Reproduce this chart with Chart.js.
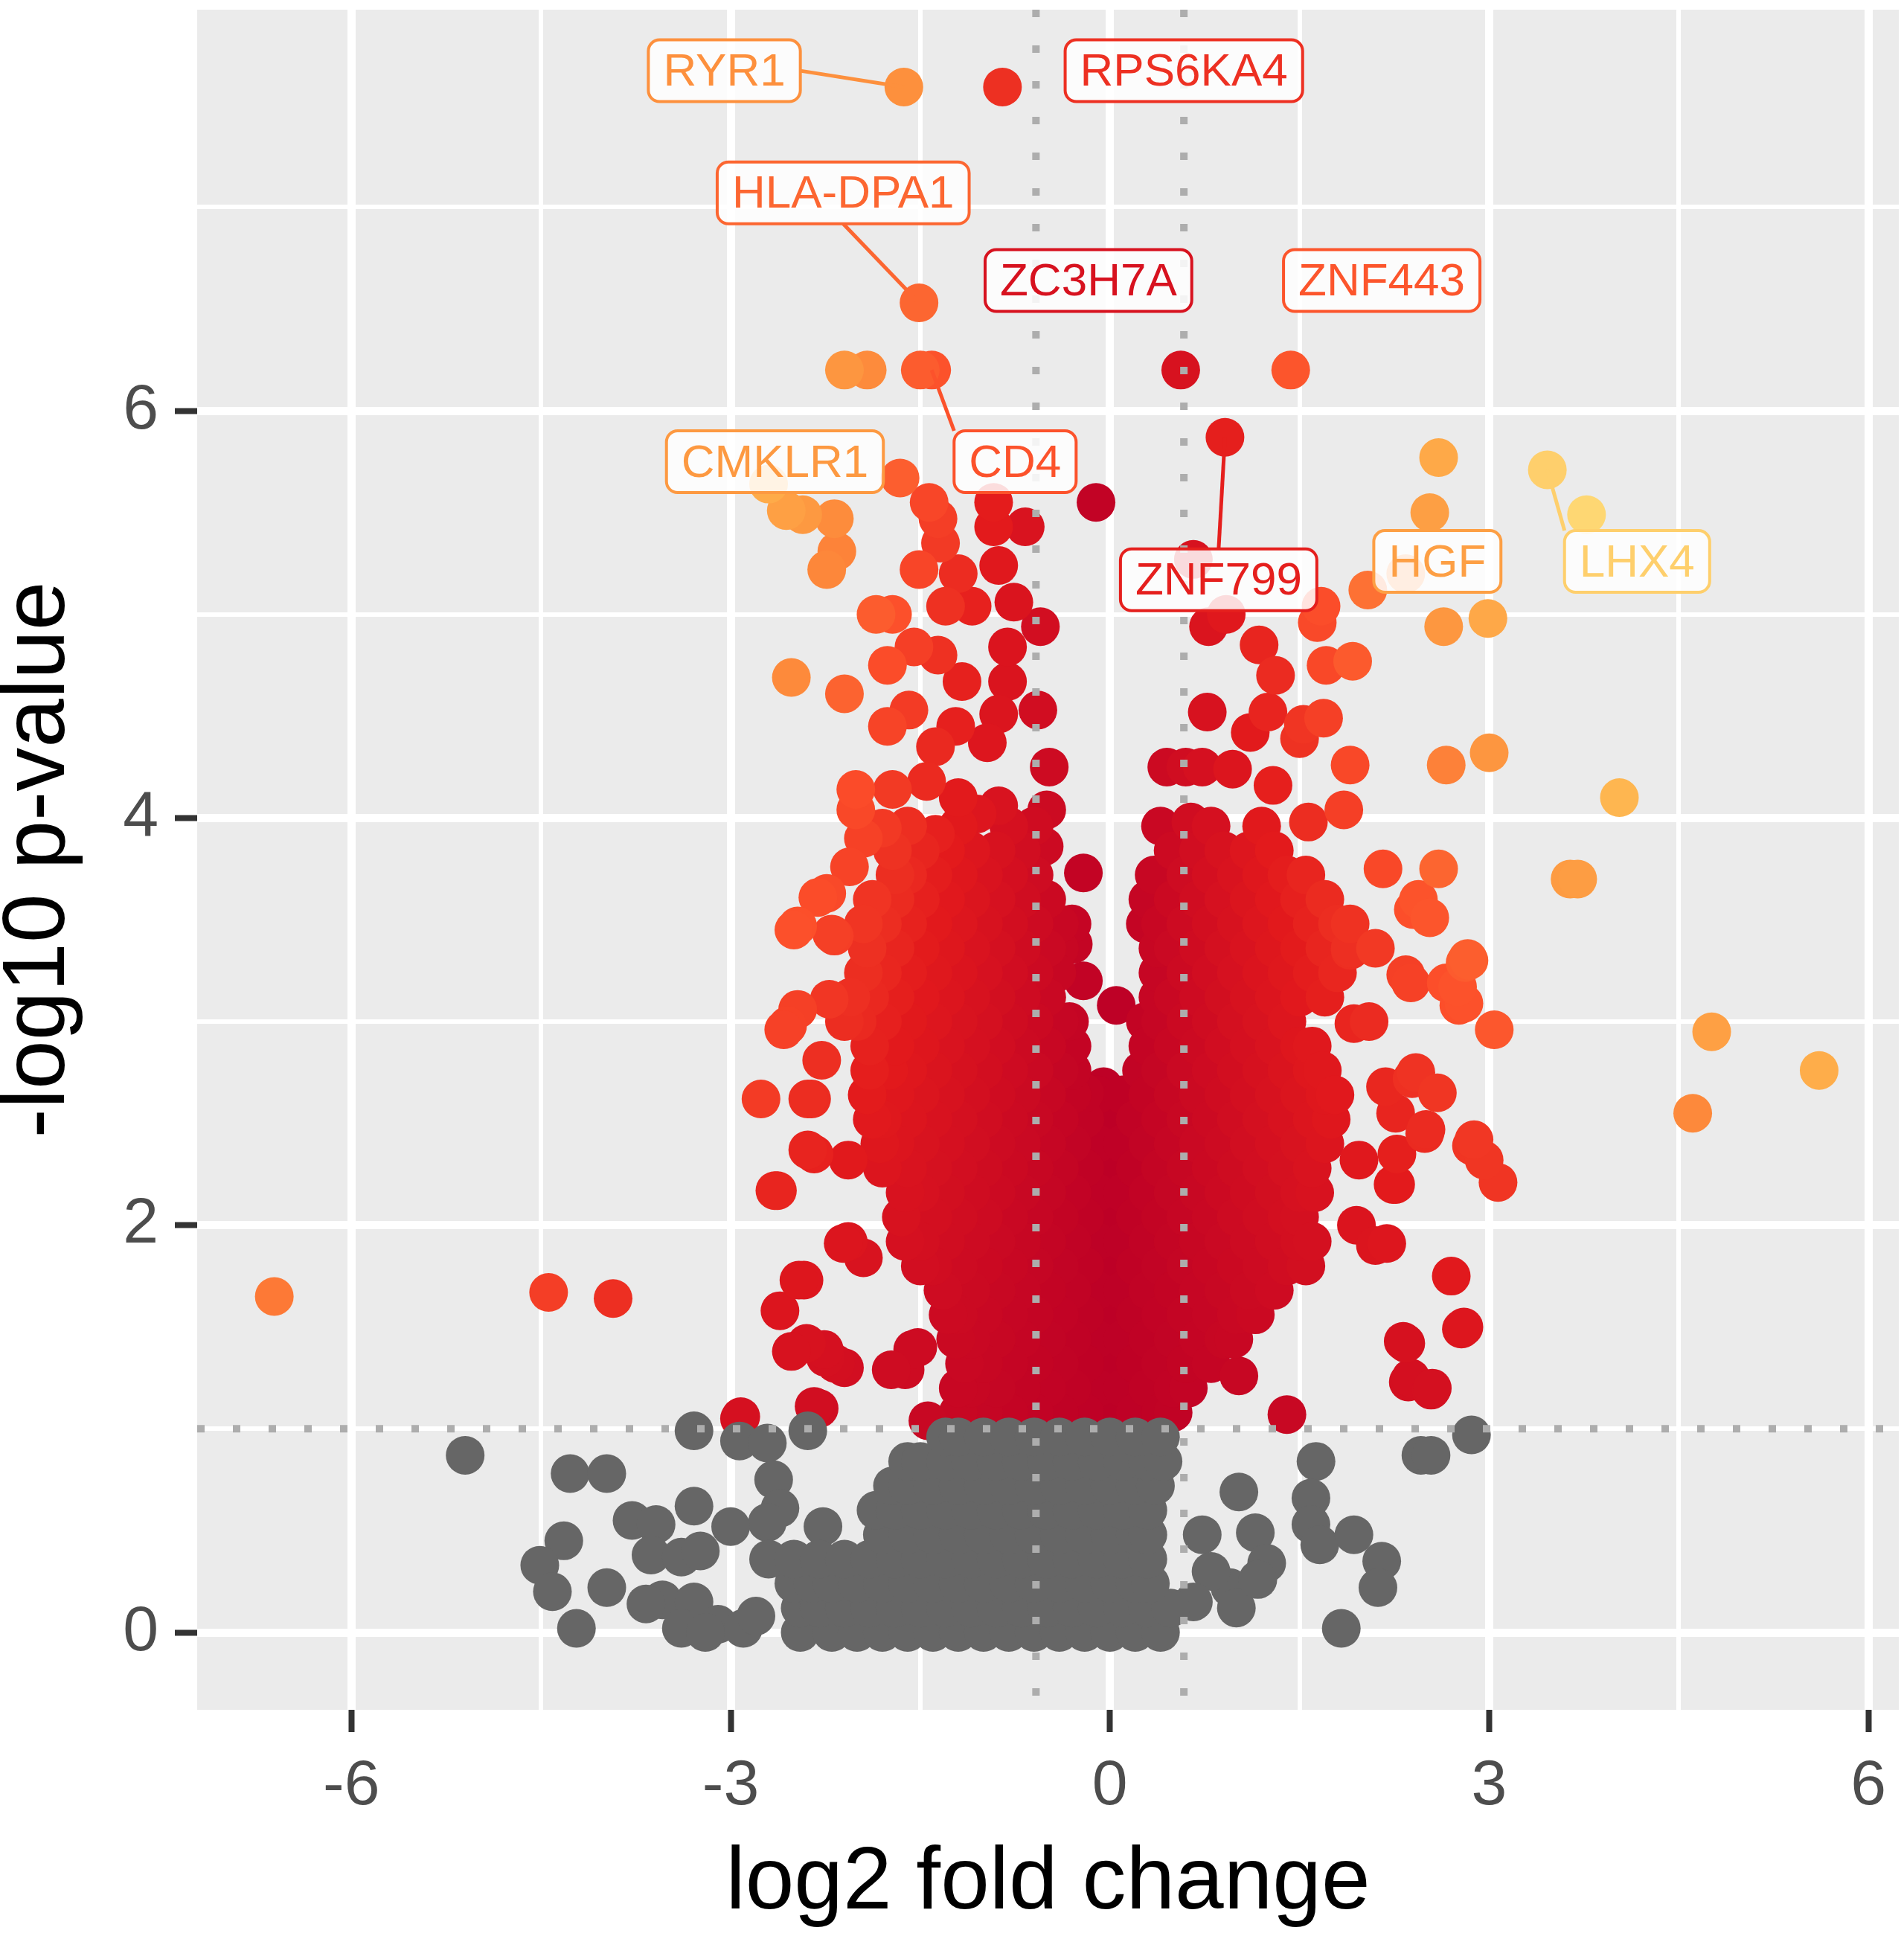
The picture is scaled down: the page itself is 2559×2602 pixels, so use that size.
<!DOCTYPE html>
<html>
<head>
<meta charset="utf-8">
<script src="https://cdn.jsdelivr.net/npm/chart.js@4.4.1/dist/chart.umd.min.js"></script>
<style>
  html, body { margin: 0; padding: 0; background: #ffffff; }
  #wrap { width: 2559px; height: 2602px; position: relative; }
</style>
</head>
<body>
<div id="wrap"><canvas id="chart"></canvas></div>
<script>
// labelled genes: log2 fold change and -log10 p
const geneNames = ['RYR1', 'RPS6KA4', 'HLA-DPA1', 'ZC3H7A', 'ZNF443', 'CMKLR1', 'CD4', 'ZNF799', 'HGF', 'LHX4'];
const geneFC    = [-1.63, -0.85, -1.51, 0.56, 1.43, -2.43, -1.41, 0.91, 2.53, 3.46];
const geneLogP  = [7.59, 7.59, 6.53, 6.2, 6.2, 5.49, 6.2, 5.87, 5.5, 5.71];

// significant points read one by one [log2FC, -log10 p]
const sigPoints = [
  [-2.1,6.2],[-1.92,6.2],[-1.5,6.2],[-0.11,5.55],
  [-2.7,5.64],[-2.56,5.51],[-2.18,5.47],[-2.16,5.31],[-2.24,5.22],[-1.66,5.67],[-1.43,5.55],[-1.36,5.47],
  [-1.34,5.35],[-1.51,5.22],[-1.2,5.2],[-0.92,5.55],[-0.92,5.43],[-0.67,5.43],[-0.88,5.24],[-0.76,5.06],
  [-0.55,4.94],[-0.81,4.84],[-1.85,5.0],[-1.72,5.0],[-1.3,5.04],[-1.09,5.04],[-1.55,4.84],[-1.36,4.8],
  [-1.76,4.75],[-1.17,4.67],[-0.81,4.67],[-0.57,4.53],[-0.88,4.51],[-2.52,4.69],[-2.1,4.61],[-1.76,4.45],
  [-1.59,4.53],[-1.22,4.45],[-0.97,4.37],[-1.38,4.35],[-0.48,4.25],[-2.01,4.14],[-1.72,4.14],[-2.01,4.04],
  [-1.45,4.18],[-1.2,4.1],[-0.88,4.06],[-0.5,4.04],[-2.06,3.76],[-2.24,3.63],[-2.5,3.45],[-2.2,3.43],
  [-1.72,3.84],[-0.21,3.73],[-0.29,3.38],[-0.21,3.2],[0.05,3.08],[-0.2,2.65],[-0.05,2.68],
  [0.66,5.27],[0.78,4.94],[0.92,5.0],[2.34,5.2],[2.04,5.12],[1.67,5.04],[1.64,4.96],[2.64,4.94],[2.99,4.98],
  [2.6,5.77],[3.77,5.49],[1.18,4.85],[1.31,4.7],[1.71,4.75],[1.92,4.77],[0.77,4.52],[1.25,4.52],[1.11,4.42],
  [1.53,4.46],[1.69,4.49],[1.5,4.39],[2.66,4.26],[3.0,4.32],[0.45,4.25],[0.6,4.25],[0.73,4.25],[1.9,4.26],
  [0.97,4.24],[1.29,4.16],[1.85,4.04],[0.64,3.98],[1.57,3.98],[2.16,3.75],[2.6,3.75],[2.44,3.6],[2.53,3.51],
  [2.83,3.31],[2.4,3.55],
  [2.34,3.23],[2.81,3.29],[2.66,3.19],[2.76,3.08],[3.04,2.96],[1.93,2.99],[1.9,3.35],[2.18,2.68],[2.39,2.72],
  [2.59,2.65],[2.49,2.45],[2.27,2.35],[2.24,2.2],[2.19,1.91],[2.86,2.39],[2.96,2.32],[3.07,2.21],[2.7,1.75],
  [2.78,1.49],[2.32,1.43],[2.36,1.23],[2.54,1.19],[1.02,1.26],[1.4,1.07],[4.03,4.1],[3.64,3.7],[3.7,3.7],
  [4.76,2.95],[4.61,2.55],[5.61,2.76],[2.42,2.75],[2.26,2.55],[2.5,2.47],[2.88,2.42],[1.95,2.0],[2.1,1.9],
  [2.8,1.5],[2.34,1.42],[2.38,1.25],[2.55,1.2],[2.75,3.17],[2.84,3.3],[2.38,3.19],[2.8,3.09],[2.05,3.0],
  [1.97,2.32],[2.26,2.2],
  [-6.61,1.65],[-4.44,1.67],[-3.93,1.64],[-2.93,1.05],[-2.76,2.62],[-2.65,2.17],[-2.58,2.96],[-2.39,2.62],
  [-2.39,2.37],[-2.61,1.58],[-2.46,1.73],[-2.52,1.38],[-2.26,1.39],[-2.17,1.32],[-2.34,1.11],[-2.11,1.91],
  [-1.95,1.84],[-2.31,3.61],[-2.22,3.11],[-1.73,1.29],[-1.56,1.39],[-2.47,3.47],[-2.18,3.42],[-2.47,3.06],
  [-2.55,2.98],[-2.28,2.81],[-2.36,2.62],[-2.34,2.35],[-2.07,2.32],[-2.63,2.17],[-2.07,1.92],
  [-2.42,1.73],[-2.4,1.42],[-2.25,1.35],[-2.1,1.3],[-1.52,1.4],[-1.62,1.29],[-2.3,1.1],[-2.92,1.06],[-1.44,1.04],
  [-1.95,3.9],[-1.8,3.95],[-1.38,3.92],[-0.52,3.86],[-1.05,4.02]
];

// dense part of the significant cloud, row by row: [-log10 p, log2FC...]
const sigRows = [
  [1.08, -1.2,-1.0,-0.8,-0.6,-0.4,-0.2,0,0.2,0.4,0.5],
  [1.2, -1.2,-1.1,-0.9,-0.7,-0.5,-0.3,-0.1,0.1,0.3,0.5,0.62],
  [1.32, -1.15,-1.0,-0.8,-0.6,-0.4,-0.2,0,0.2,0.4,0.6,0.8],
  [1.44, -1.22,-1.1,-0.9,-0.7,-0.5,-0.3,-0.1,0.1,0.3,0.5,0.7,0.9,0.98],
  [1.56, -1.28,-1.2,-1.0,-0.8,-0.6,-0.4,-0.2,0,0.2,0.4,0.6,0.8,1.0,1.15],
  [1.68, -1.32,-1.1,-0.9,-0.7,-0.5,-0.3,-0.1,0.1,0.3,0.5,0.7,0.9,1.1,1.3],
  [1.8, -1.5,-1.4,-1.2,-1.0,-0.8,-0.6,-0.4,-0.2,0,0.2,0.4,0.6,0.8,1.0,1.2,1.4,1.55],
  [1.92, -1.62,-1.5,-1.3,-1.1,-0.9,-0.7,-0.5,-0.3,-0.1,0.1,0.3,0.5,0.7,0.9,1.1,1.3,1.5,1.6],
  [2.04, -1.65,-1.4,-1.2,-1.0,-0.8,-0.6,-0.4,-0.2,0,0.2,0.4,0.6,0.8,1.0,1.2,1.4,1.5],
  [2.16, -1.62,-1.5,-1.3,-1.1,-0.9,-0.7,-0.5,-0.3,-0.1,0.1,0.3,0.5,0.7,0.9,1.1,1.3,1.5,1.62],
  [2.28, -1.8,-1.6,-1.4,-1.2,-1.0,-0.8,-0.6,-0.4,-0.2,0,0.2,0.4,0.6,0.8,1.0,1.2,1.4,1.6],
  [2.4, -1.82,-1.7,-1.5,-1.3,-1.1,-0.9,-0.7,-0.5,-0.3,-0.1,0.1,0.3,0.5,0.7,0.9,1.1,1.3,1.5,1.7],
  [2.52, -1.88,-1.8,-1.6,-1.4,-1.2,-1.0,-0.8,-0.6,-0.4,-0.2,0,0.2,0.4,0.6,0.8,1.0,1.2,1.4,1.6,1.75],
  [2.64, -1.92,-1.7,-1.5,-1.3,-1.1,-0.9,-0.7,-0.5,-0.3,-0.1,0.1,0.3,0.5,0.7,0.9,1.1,1.3,1.5,1.7,1.78],
  [2.76, -1.9,-1.75,-1.6,-1.4,-1.2,-1.0,-0.8,-0.6,-0.4,-0.3,0.25,0.4,0.6,0.8,1.0,1.2,1.4,1.6,1.68],
  [2.88, -1.9,-1.7,-1.5,-1.3,-1.1,-0.9,-0.7,-0.5,-0.3,0.3,0.5,0.7,0.9,1.1,1.3,1.5,1.6],
  [3.0, -2.1,-2.0,-1.8,-1.6,-1.4,-1.2,-1.0,-0.8,-0.6,-0.4,-0.32,0.28,0.4,0.6,0.8,1.0,1.2,1.4],
  [3.12, -2.05,-1.9,-1.7,-1.5,-1.3,-1.1,-0.9,-0.7,-0.5,0.38,0.5,0.7,0.9,1.1,1.3,1.5,1.7],
  [3.24, -1.95,-1.8,-1.6,-1.4,-1.2,-1.0,-0.8,-0.6,-0.42,0.38,0.6,0.8,1.0,1.2,1.4,1.6,1.8],
  [3.36, -1.92,-1.7,-1.5,-1.3,-1.1,-0.9,-0.7,-0.5,-0.4,0.38,0.5,0.7,0.9,1.1,1.3,1.5,1.7,1.9,2.1],
  [3.48, -1.95,-1.8,-1.6,-1.4,-1.2,-1.0,-0.8,-0.6,-0.4,-0.3,0.28,0.4,0.6,0.8,1.0,1.2,1.4,1.6,1.8,1.9],
  [3.6, -1.88,-1.7,-1.5,-1.3,-1.1,-0.9,-0.7,-0.5,0.3,0.5,0.7,0.9,1.1,1.3,1.5,1.7],
  [3.72, -1.7,-1.6,-1.4,-1.2,-1.0,-0.8,-0.6,0.35,0.6,0.8,1.0,1.2,1.4,1.55],
  [3.84, -1.5,-1.3,-1.1,-0.9,-0.7,0.5,0.7,0.9,1.1,1.3],
  [3.96, -1.6,-1.2,-0.8,-0.6,0.4,0.8,1.2]
];

// non significant points (grey)
const nsPoints = [
  [-5.1,0.87],[-4.27,0.78],[-3.98,0.78],[-4.32,0.45],[-4.51,0.33],[-4.41,0.2],[-4.22,0.02],[-3.98,0.22],
  [-3.78,0.55],[-3.59,0.53],[-3.29,0.62],[-3.29,0.99],[-2.93,0.94],[-2.71,0.93],[-2.39,0.99],[-2.66,0.75],
  [-2.61,0.61],[-2.71,0.54],[-3.0,0.52],[-2.27,0.52],[-3.63,0.38],[-3.39,0.37],[-3.24,0.4],[-3.54,0.16],
  [-3.29,0.15],[-3.39,0.02],[-3.1,0.04],[-2.9,0.02],[-2.8,0.08],[-3.67,0.14],[-3.2,0.0],
  [0.73,0.48],[1.02,0.69],[1.15,0.49],[1.24,0.34],[0.95,0.22],[1.0,0.12],[1.63,0.84],[1.59,0.66],[1.59,0.53],
  [1.66,0.43],[1.93,0.48],[2.15,0.35],[2.12,0.22],[1.83,0.02],[2.46,0.87],[2.54,0.87],[2.86,0.97],[1.17,0.26],
  [0.8,0.3],[0.66,0.15]
];
const nsRows = [
  [0.0, -2.45,-2.2,-2.0,-1.8,-1.6,-1.4,-1.2,-1.0,-0.8,-0.6,-0.4,-0.2,0,0.2,0.4],
  [0.12, -2.45,-2.3,-2.1,-1.9,-1.7,-1.5,-1.3,-1.1,-0.9,-0.7,-0.5,-0.3,-0.1,0.1,0.3,0.48],
  [0.24, -2.5,-2.35,-2.2,-2.0,-1.8,-1.6,-1.4,-1.2,-1.0,-0.8,-0.6,-0.4,-0.2,0,0.2,0.32],
  [0.36, -2.7,-2.5,-2.3,-2.1,-1.9,-1.7,-1.5,-1.3,-1.1,-0.9,-0.7,-0.5,-0.3,-0.1,0.1,0.3],
  [0.48, -1.8,-1.6,-1.4,-1.2,-1.0,-0.8,-0.6,-0.4,-0.2,0,0.2,0.3],
  [0.6, -1.85,-1.7,-1.5,-1.3,-1.1,-0.9,-0.7,-0.5,-0.3,-0.1,0.1,0.3],
  [0.72, -1.72,-1.6,-1.4,-1.2,-1.0,-0.8,-0.6,-0.4,-0.2,0,0.2,0.36],
  [0.84, -1.6,-1.5,-1.3,-1.1,-0.9,-0.7,-0.5,-0.3,-0.1,0.1,0.3,0.42],
  [0.96, -1.3,-1.2,-1.0,-0.8,-0.6,-0.4,-0.2,0,0.2,0.4]
];

// cut-offs (dotted lines) and axis breaks
const fcCut = [-0.585, 0.585];
const pCut = 1;
const xGrid = [-6, -4.5, -3, -1.5, 0, 1.5, 3, 4.5, 6];
const xMajor = [-6, -3, 0, 3, 6];
const yGrid = [0, 1, 2, 3, 4, 5, 6, 7];
const yMajor = [0, 2, 4, 6];

// where the label boxes sit (data units) and whether a segment is drawn
const labelCenters = [[-3.05,7.67],[0.585,7.67],[-2.11,7.07],[-0.17,6.64],[2.15,6.64],[-2.65,5.75],[-0.75,5.75],[0.86,5.17],[2.59,5.26],[4.17,5.26]];
const labelSegment = [true, false, true, false, false, false, true, true, false, true];

// colour: reversed YlOrRd along |log2FC| * -log10 p
const colorStops = [[0,'#BD0026'],[5,'#E31A1C'],[8.5,'#FC4E2A'],[12,'#FD8D3C'],[16,'#FEB24C'],[21,'#FED976']];
function hexRgb(h) { return [1,3,5].map(i => parseInt(h.substr(i,2),16)); }
function score(p) { return Math.abs(p.x) * p.y; }
function pointColor(p) {
  const s = score(p);
  if (s <= colorStops[0][0]) return colorStops[0][1];
  for (let i = 1; i < colorStops.length; i++) {
    if (s <= colorStops[i][0]) {
      const t = (s - colorStops[i-1][0]) / (colorStops[i][0] - colorStops[i-1][0]);
      const a = hexRgb(colorStops[i-1][1]), b = hexRgb(colorStops[i][1]);
      const c = a.map((v, k) => Math.round(v + (b[k] - v) * t));
      return `rgb(${c[0]},${c[1]},${c[2]})`;
    }
  }
  return colorStops[colorStops.length-1][1];
}

// build datasets
const sigData = [];
sigPoints.forEach(p => sigData.push({x: p[0], y: p[1]}));
sigRows.forEach(r => r.slice(1).forEach(x => sigData.push({x: x, y: r[0]})));
geneNames.forEach((g, i) => sigData.push({x: geneFC[i], y: geneLogP[i], gene: g}));
sigData.sort((a, b) => score(a) - score(b));

const nsData = [];
nsPoints.forEach(p => nsData.push({x: p[0], y: p[1]}));
nsRows.forEach(r => r.slice(1).forEach(x => nsData.push({x: x, y: r[0]})));

const FONT = '"Liberation Sans", Arial, Helvetica, sans-serif';

// grey panel behind the grid
const panelBg = {
  id: 'panelBg',
  beforeDraw(chart) {
    const {ctx, chartArea: a} = chart;
    ctx.save();
    ctx.fillStyle = '#EBEBEB';
    ctx.fillRect(a.left, a.top, a.right - a.left, a.bottom - a.top);
    ctx.restore();
  }
};

// dotted cut-off lines on top of the points
const cutLines = {
  id: 'cutLines',
  afterDatasetsDraw(chart) {
    const {ctx, chartArea: a, scales: {x, y}} = chart;
    ctx.save();
    ctx.strokeStyle = '#ADADAD';
    ctx.lineWidth = 10;
    ctx.setLineDash([10, 38]);
    fcCut.forEach(v => {
      const px = x.getPixelForValue(v);
      ctx.beginPath(); ctx.moveTo(px, a.top); ctx.lineTo(px, a.bottom); ctx.stroke();
    });
    const py = y.getPixelForValue(pCut);
    ctx.beginPath(); ctx.moveTo(a.left, py); ctx.lineTo(a.right, py); ctx.stroke();
    ctx.restore();
  }
};

// repel-style labels
function roundRect(ctx, x, y, w, h, r) {
  ctx.beginPath();
  ctx.moveTo(x + r, y);
  ctx.lineTo(x + w - r, y); ctx.arcTo(x + w, y, x + w, y + r, r);
  ctx.lineTo(x + w, y + h - r); ctx.arcTo(x + w, y + h, x + w - r, y + h, r);
  ctx.lineTo(x + r, y + h); ctx.arcTo(x, y + h, x, y + h - r, r);
  ctx.lineTo(x, y + r); ctx.arcTo(x, y, x + r, y, r);
  ctx.closePath();
}
const geneLabels = {
  id: 'geneLabels',
  afterDatasetsDraw(chart) {
    const {ctx, scales: {x, y}} = chart;
    ctx.save();
    ctx.font = `62px ${FONT}`;
    const boxes = geneNames.map((g, i) => {
      const w = ctx.measureText(g).width + 40, h = 83;
      const cx = x.getPixelForValue(labelCenters[i][0]), cy = y.getPixelForValue(labelCenters[i][1]);
      const px = x.getPixelForValue(geneFC[i]), py = y.getPixelForValue(geneLogP[i]);
      const col = pointColor({x: geneFC[i], y: geneLogP[i]});
      return {g, w, h, x1: cx - w / 2, x2: cx + w / 2, y1: cy - h / 2, y2: cy + h / 2, cx, cy, px, py, col, seg: labelSegment[i]};
    });
    // segments first
    boxes.forEach(b => {
      if (!b.seg) return;
      let ex = Math.max(b.x1, Math.min(b.px, b.x2));
      let ey = Math.max(b.y1, Math.min(b.py, b.y2));
      const onV = (ex === b.x1 || ex === b.x2), onH = (ey === b.y1 || ey === b.y2);
      if (onV && !onH) ey = b.cy;
      if (onH && !onV) ex = b.cx;
      ctx.strokeStyle = b.col;
      ctx.lineWidth = 5;
      ctx.beginPath(); ctx.moveTo(b.px, b.py); ctx.lineTo(ex, ey); ctx.stroke();
    });
    boxes.forEach(b => {
      roundRect(ctx, b.x1, b.y1, b.w, b.h, 15);
      ctx.fillStyle = 'rgba(255,255,255,0.85)';
      ctx.fill();
      ctx.strokeStyle = b.col;
      ctx.lineWidth = 4;
      ctx.stroke();
      ctx.fillStyle = b.col;
      ctx.textAlign = 'center';
      ctx.textBaseline = 'middle';
      ctx.fillText(b.g, b.cx, b.cy + 3);
    });
    ctx.restore();
  }
};

function gridOpts(major) {
  return {
    color: '#FFFFFF',
    lineWidth: c => major.includes(c.tick.value) ? 11 : 6,
    tickColor: c => major.includes(c.tick.value) ? '#333333' : 'rgba(0,0,0,0)',
    tickWidth: 8,
    tickLength: 30,
    drawTicks: true
  };
}

// no extra room for overhanging tick labels
function noOverhang(s) {
  s.paddingTop = 0; s.paddingBottom = 0; s.paddingLeft = 0; s.paddingRight = 0;
}

const ctx = document.getElementById('chart').getContext('2d');
const chart = new Chart(ctx, {
  type: 'scatter',
  data: {
    datasets: [
      {
        label: 'not significant',
        data: nsData,
        backgroundColor: '#666666',
        pointRadius: 26,
        pointBorderWidth: 0,
        order: 0
      },
      {
        label: 'significant',
        data: sigData,
        backgroundColor: c => pointColor(c.raw || {x: 0, y: 0}),
        pointRadius: 26,
        pointBorderWidth: 0,
        order: 1
      }
    ]
  },
  options: {
    responsive: true,
    maintainAspectRatio: false,
    devicePixelRatio: 1,
    animation: false,
    events: [],
    layout: { autoPadding: false, padding: { top: 13, right: 7, left: 0, bottom: 0 } },
    plugins: { legend: { display: false }, tooltip: { enabled: false } },
    scales: {
      x: {
        type: 'linear',
        min: -7.22,
        max: 6.24,
        afterBuildTicks: s => { s.ticks = xGrid.map(v => ({value: v})); },
        afterFit: s => { s.height = 304; noOverhang(s); },
        border: { display: false },
        grid: gridOpts(xMajor),
        ticks: {
          autoSkip: false,
          maxRotation: 0,
          padding: 22,
          color: '#4D4D4D',
          font: { family: FONT, size: 86 },
          callback: v => xMajor.includes(v) ? String(v) : ''
        },
        title: {
          display: true,
          text: 'log2 fold change',
          color: '#000000',
          font: { family: FONT, size: 118, lineHeight: 1 },
          padding: { top: 0, bottom: 11 }
        }
      },
      y: {
        type: 'linear',
        min: -0.38,
        max: 7.97,
        afterBuildTicks: s => { s.ticks = yGrid.map(v => ({value: v})); },
        afterFit: s => { s.width = 265; noOverhang(s); },
        border: { display: false },
        grid: gridOpts(yMajor),
        ticks: {
          autoSkip: false,
          padding: 22,
          color: '#4D4D4D',
          font: { family: FONT, size: 86 },
          callback: v => yMajor.includes(v) ? String(v) : ''
        },
        title: {
          display: true,
          text: '-log10 p-value',
          color: '#000000',
          font: { family: FONT, size: 118, lineHeight: 0.9 },
          padding: { top: 0, bottom: 0 }
        }
      }
    }
  },
  plugins: [panelBg, cutLines, geneLabels]
});
</script>
</body>
</html>
